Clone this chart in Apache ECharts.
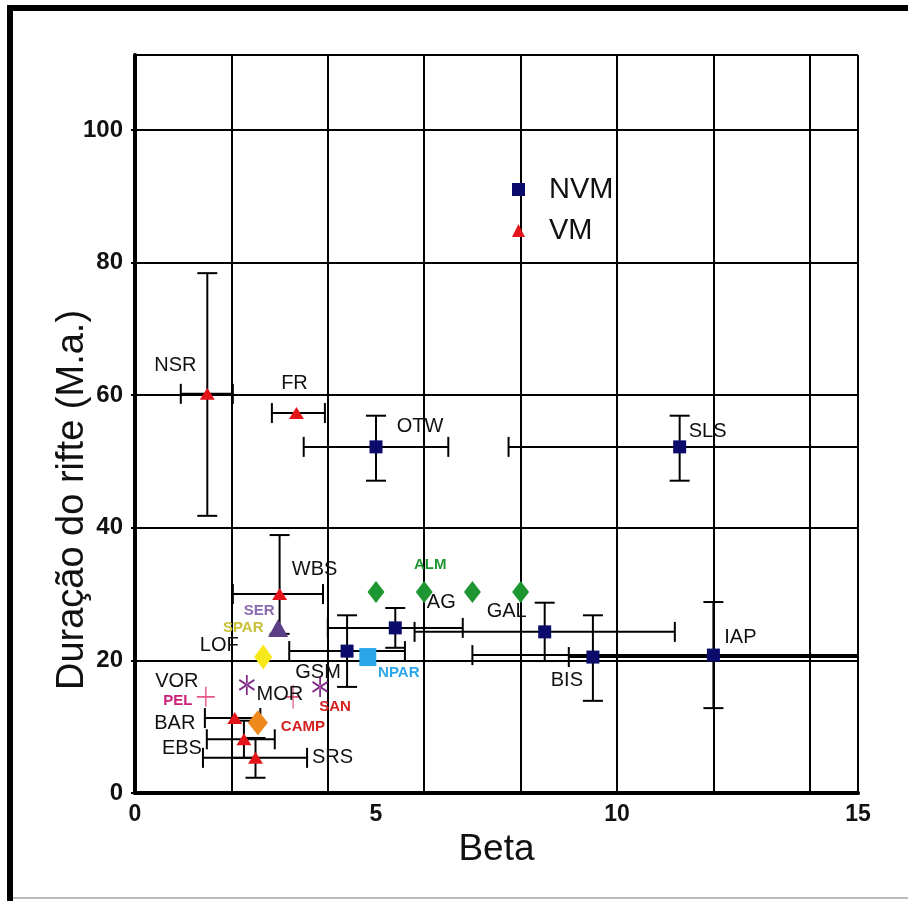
<!DOCTYPE html>
<html>
<head>
<meta charset="utf-8">
<script src="https://cdn.jsdelivr.net/npm/echarts@6/dist/echarts.min.js"></script>
<style>
  html, body { margin: 0; padding: 0; background: #fff; }
  #chart { width: 908px; height: 901px; }
</style>
</head>
<body>
<div id="chart"></div>
<script>
// NVM sites (navy squares) with beta / duration error ranges
var nvmNames   = ['OTW', 'SLS', 'GSM', 'AG', 'GAL', 'BIS', 'IAP'];
var nvmBeta    = [5.0, 11.3, 4.4, 5.4, 8.5, 9.5, 12.0];
var nvmDur     = [52.2, 52.2, 21.4, 24.9, 24.3, 20.5, 20.8];
var nvmBetaLo  = [3.5, 7.75, 3.2, 4.0, 5.8, 9.0, 7.0];
var nvmBetaHi  = [6.5, 15, 5.6, 6.8, 11.2, 15, 15];
var nvmDurLo   = [47.1, 47.1, 16.0, 21.9, 19.9, 13.9, 12.8];
var nvmDurHi   = [56.9, 56.9, 26.8, 27.9, 28.7, 26.8, 28.8];

// VM sites (red triangles)
var vmNames    = ['NSR', 'FR', 'WBS', 'BAR', 'EBS', 'SRS'];
var vmBeta     = [1.5, 3.35, 3.0, 2.07, 2.26, 2.5];
var vmDur      = [60.2, 57.3, 30.0, 11.3, 8.1, 5.3];
var vmBetaLo   = [0.95, 2.84, 2.03, 1.45, 1.49, 1.41];
var vmBetaHi   = [2.03, 3.94, 3.9, 2.6, 2.9, 3.57];
var vmDurLo    = [41.8, null, 24.0, null, 5.3, 2.3];
var vmDurHi    = [78.4, null, 38.9, null, 10.9, 8.3];

// other sites
var serBeta  = [2.97],  serDur  = [24.9];
var sparBeta = [2.66],  sparDur = [20.5];
var nparBeta = [4.83],  nparDur = [20.5];
var almBeta  = [5, 6, 7, 8], almDur = [30.3, 30.3, 30.3, 30.3];
var campBeta = [2.55],  campDur = [10.6];
var astNames = ['MOR', 'SAN'];
var astBeta  = [2.32, 3.84], astDur = [16.3, 16.0];
var pelBeta  = [1.47],  pelDur  = [14.5];
var crossBeta = [3.28], crossDur = [14.5];

var xTicks = [0, 5, 10, 15];
var yTicks = [0, 20, 40, 60, 80, 100];

// label offsets (px, relative to marker centre) - styling only
var lblOff = {
  OTW: [44, -20], SLS: [28, -15], GSM: [-29, 21], AG: [46, -25], GAL: [-38, -20],
  BIS: [-26, 23], IAP: [27, -18],
  NSR: [-32, -28], FR: [-2, -30], WBS: [35, -25], BAR: [-60, 5], EBS: [-62, 9], SRS: [77, 0]
};

var FONT = 'Liberation Sans, Arial, sans-serif';

function blackLabel(text, off) {
  return { show: true, position: 'inside', offset: off, formatter: text,
           color: '#111', fontSize: 20, fontFamily: FONT, textBorderWidth: 0 };
}

function colourLabel(text, off, color) {
  return { show: true, position: 'inside', offset: off, formatter: text,
           color: color, fontSize: 15, fontWeight: 'bold', fontFamily: FONT, textBorderWidth: 0 };
}

function labelled(names, xs, ys) {
  return names.map(function (n, i) {
    return { name: n, value: [xs[i], ys[i]], label: blackLabel(n, lblOff[n]) };
  });
}

// error bar rows: [x, y, xlo, xhi, ylo, yhi]
var barRows = [];
nvmNames.forEach(function (n, i) {
  barRows.push([nvmBeta[i], nvmDur[i], nvmBetaLo[i], nvmBetaHi[i], nvmDurLo[i], nvmDurHi[i]]);
});
vmNames.forEach(function (n, i) {
  barRows.push([vmBeta[i], vmDur[i], vmBetaLo[i], vmBetaHi[i], vmDurLo[i], vmDurHi[i]]);
});

function renderBars(params, api) {
  var r = barRows[params.dataIndex];
  var cap = 10;
  var st = { stroke: '#000', lineWidth: 2 };
  var kids = [];
  function seg(x1, y1, x2, y2) {
    kids.push({ type: 'line', shape: { x1: x1, y1: y1, x2: x2, y2: y2 }, style: st });
  }
  if (r[2] != null) {
    var a = api.coord([r[2], r[1]]), b = api.coord([r[3], r[1]]);
    seg(a[0], a[1], b[0], b[1]);
    seg(a[0], a[1] - cap, a[0], a[1] + cap);
    seg(b[0], b[1] - cap, b[0], b[1] + cap);
  }
  if (r[4] != null) {
    var c = api.coord([r[0], r[4]]), d = api.coord([r[0], r[5]]);
    seg(c[0], c[1], d[0], d[1]);
    seg(c[0] - cap, c[1], c[0] + cap, c[1]);
    seg(d[0] - cap, d[1], d[0] + cap, d[1]);
  }
  return { type: 'group', children: kids };
}

var asterisk = 'path://M9,0L11,0L11,20L9,20Z M18.16,15.87L19.16,14.13L1.84,4.13L0.84,5.87Z M19.16,5.87L18.16,4.13L0.84,14.13L1.84,15.87Z';
var plus = 'path://M9.2,0L10.8,0L10.8,9.2L20,9.2L20,10.8L10.8,10.8L10.8,20L9.2,20L9.2,10.8L0,10.8L0,9.2L9.2,9.2Z';

var chart = echarts.init(document.getElementById('chart'));

var option = {
  backgroundColor: '#fff',
  animation: false,
  grid: { left: 135, right: 50, top: 55, bottom: 108 },
  legend: {
    left: 507, top: 170, orient: 'vertical', itemGap: 12,
    itemWidth: 13, itemHeight: 13,
    textStyle: { fontSize: 29, color: '#111', fontFamily: FONT, padding: [0, 0, 0, 19] },
    data: [{ name: 'NVM', icon: 'rect' }, { name: 'VM', icon: 'triangle' }]
  },
  graphic: [
    { type: 'rect', shape: { x: 7, y: 5, width: 6, height: 896 }, style: { fill: '#000' } },
    { type: 'rect', shape: { x: 7, y: 5, width: 901, height: 6 }, style: { fill: '#000' } },
    { type: 'rect', shape: { x: 13, y: 897, width: 895, height: 2 }, style: { fill: '#bbb' } }
  ],
  xAxis: [
    {
      type: 'value', min: xTicks[0], max: xTicks[xTicks.length - 1], interval: 5,
      name: 'Beta', nameLocation: 'middle', nameGap: 38, nameMoveOverlap: false,
      nameTextStyle: { fontSize: 37, color: '#111', fontFamily: FONT },
      axisLine: { show: true, lineStyle: { color: '#000', width: 4 } },
      axisTick: { show: false },
      axisLabel: { fontSize: 23, fontWeight: 'bold', color: '#111', margin: 10, fontFamily: FONT },
      splitLine: { show: false }
    },
    {
      type: 'value', min: 0, max: 15, interval: 2, position: 'top',
      axisLine: { show: true, lineStyle: { color: '#000', width: 3 } },
      axisTick: { show: false }, axisLabel: { show: false },
      splitLine: { show: true, lineStyle: { color: '#000', width: 2 } }
    }
  ],
  yAxis: [
    {
      type: 'value', min: yTicks[0], max: 111.3, interval: 20,
      name: 'Duração do rifte (M.a.)', nameLocation: 'middle', nameGap: 43, nameMoveOverlap: false,
      nameTextStyle: { fontSize: 38, color: '#111', fontFamily: FONT, padding: [0, 152, 0, 0] },
      axisLine: { show: true, lineStyle: { color: '#000', width: 4 } },
      axisTick: { show: true, length: 4, lineStyle: { color: '#000', width: 2 } },
      axisLabel: { fontSize: 24, fontWeight: 'bold', color: '#111', margin: 12,
                   showMaxLabel: false, fontFamily: FONT },
      splitLine: { show: true, lineStyle: { color: '#000', width: 2 } }
    },
    {
      type: 'value', min: 0, max: 111.3, position: 'right',
      axisLine: { show: true, lineStyle: { color: '#000', width: 3 } },
      axisTick: { show: false }, axisLabel: { show: false }, splitLine: { show: false }
    }
  ],
  series: [
    {
      type: 'custom', name: 'bars', z: 2, renderItem: renderBars,
      data: barRows.map(function (r) { return [r[0], r[1]]; })
    },
    {
      type: 'scatter', name: 'NVM', z: 4, symbol: 'rect', symbolSize: 13,
      itemStyle: { color: '#0b0b6b', opacity: 1 },
      data: labelled(nvmNames, nvmBeta, nvmDur)
    },
    {
      type: 'scatter', name: 'VM', z: 4, symbol: 'triangle', symbolSize: [15, 12],
      itemStyle: { color: '#e3151b', opacity: 1 },
      data: labelled(vmNames, vmBeta, vmDur)
    },
    {
      type: 'scatter', name: 'SER', z: 4, symbol: 'triangle', symbolSize: [20, 18],
      itemStyle: { color: '#5a3e86', opacity: 1 },
      data: [{ value: [serBeta[0], serDur[0]], label: colourLabel('SER', [-19, -17], '#8a6bb0') }]
    },
    {
      type: 'scatter', name: 'SPAR', z: 4, symbol: 'diamond', symbolSize: [18, 25],
      itemStyle: { color: '#f7e81c', opacity: 1 },
      data: [{ value: [sparBeta[0], sparDur[0]], label: colourLabel('SPAR', [-20, -29], '#c9c23a') }]
    },
    {
      type: 'scatter', name: 'NPAR', z: 4, symbol: 'rect', symbolSize: [17, 18],
      itemStyle: { color: '#2aa5e8', opacity: 1 },
      data: [{ value: [nparBeta[0], nparDur[0]], label: colourLabel('NPAR', [31, 16], '#2aa5e8') }]
    },
    {
      type: 'scatter', name: 'ALM', z: 4, symbol: 'diamond', symbolSize: [17, 22],
      itemStyle: { color: '#1e9632', opacity: 1 },
      data: almBeta.map(function (b, i) {
        var d = { value: [b, almDur[i]] };
        if (i === 1) d.label = colourLabel('ALM', [6, -27], '#1e9632');
        return d;
      })
    },
    {
      type: 'scatter', name: 'CAMP', z: 4, symbol: 'diamond', symbolSize: [20, 25],
      itemStyle: { color: '#f0891c', opacity: 1 },
      data: [{ value: [campBeta[0], campDur[0]], label: colourLabel('CAMP', [45, 4], '#d42020') }]
    },
    {
      type: 'scatter', name: 'ast', z: 4, symbol: asterisk, symbolSize: [16, 20],
      itemStyle: { color: '#7e2a86', opacity: 1 },
      data: [
        { value: [astBeta[0], astDur[0]], label: blackLabel(astNames[0], [33, 10]) },
        { value: [astBeta[1], astDur[1]], label: colourLabel(astNames[1], [15, 20], '#d42020') }
      ]
    },
    {
      type: 'scatter', name: 'PEL', z: 4, symbol: plus, symbolSize: [18, 20],
      itemStyle: { color: '#e8558a', opacity: 1 },
      data: [{ value: [pelBeta[0], pelDur[0]], label: colourLabel('PEL', [-28, 4], '#cc1f78') }]
    },
    {
      type: 'scatter', name: 'cross', z: 3, symbol: plus, symbolSize: [14, 24],
      itemStyle: { color: '#e0506e', opacity: 1 },
      data: [{ value: [crossBeta[0], crossDur[0]] }]
    },
    {
      // labels sharing a marker with another site
      type: 'scatter', name: 'extra', z: 5, symbol: 'circle', symbolSize: 1,
      itemStyle: { color: 'rgba(0,0,0,0)', opacity: 1 },
      data: [
        { value: [pelBeta[0], pelDur[0]], label: blackLabel('VOR', [-29, -15]) },
        { value: [sparBeta[0], sparDur[0]], label: blackLabel('LOF', [-44, -12]) }
      ]
    }
  ]
};

chart.setOption(option);
</script>
</body>
</html>
